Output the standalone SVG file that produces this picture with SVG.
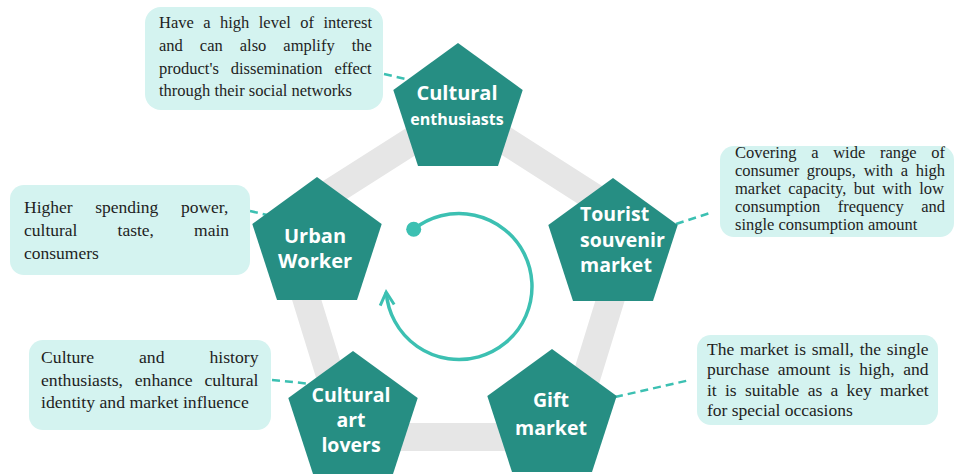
<svg xmlns="http://www.w3.org/2000/svg" width="955" height="476" viewBox="0 0 955 476">
<style>
.pent{fill:#268e83}
.lbl{font-family:"Open Sans","Noto Sans",sans-serif;font-weight:bold;fill:#ffffff}
.box{fill:#d4f3f0}
.bt{font-family:"Liberation Serif","Times New Roman",serif;fill:#1e1e1e}
.dash{stroke:#3cc0b2;stroke-width:2.5;stroke-dasharray:8 5;fill:none}
</style>
<defs>
<polygon id="pg" points="0,-68 64.7,-21 40,55 -40,55 -64.7,-21"/>
<marker id="ah" markerUnits="userSpaceOnUse" markerWidth="20" markerHeight="20" viewBox="-14 -10 16 20" refX="0" refY="0" orient="auto">
<path d="M-13,-7 L0,0 L-13,7" fill="none" stroke="#3cc0b2" stroke-width="3"/>
</marker>
</defs>
<g id="ring">
<polygon points="459,111 634,223 568,437 349,437 283,223" fill="none" stroke="#e6e6e6" stroke-width="28" stroke-linejoin="miter"/>
</g>
<g id="connectors">
<line class="dash" x1="384" y1="74" x2="414" y2="81"/>
<line class="dash" x1="676" y1="224" x2="710" y2="213"/>
<line class="dash" x1="250" y1="211" x2="280" y2="218"/>
<line class="dash" x1="272" y1="380" x2="322" y2="385"/>
<line class="dash" x1="615" y1="397" x2="690" y2="380"/>
</g>
<g id="cycle">
<circle cx="413.7" cy="229.3" r="7.5" fill="#3cc0b2"/>
<path d="M413.7,229.3 A73,73 0 1 1 386.2,292.1" fill="none" stroke="#3cc0b2" stroke-width="3.5" marker-end="url(#ah)"/>
</g>
<g id="node-cultural-enthusiasts">
<use href="#pg" class="pent" transform="translate(458,111)"/>
<text class="lbl" x="457" y="100" font-size="20" text-anchor="middle">Cultural</text>
<text class="lbl" x="457" y="125" font-size="16" text-anchor="middle">enthusiasts</text>
</g>
<g id="node-tourist">
<use href="#pg" class="pent" transform="translate(613,246)"/>
<text class="lbl" x="580" y="221" font-size="19.5">Tourist</text>
<text class="lbl" x="580" y="247" font-size="19.5">souvenir</text>
<text class="lbl" x="580" y="272" font-size="19.5">market</text>
</g>
<g id="node-urban">
<use href="#pg" class="pent" transform="translate(317,245)"/>
<text class="lbl" x="315" y="243" font-size="20" text-anchor="middle">Urban</text>
<text class="lbl" x="315" y="268" font-size="20" text-anchor="middle">Worker</text>
</g>
<g id="node-art-lovers">
<use href="#pg" class="pent" transform="translate(353,419)"/>
<text class="lbl" x="351" y="402" font-size="19.5" text-anchor="middle">Cultural</text>
<text class="lbl" x="351" y="427" font-size="19.5" text-anchor="middle">art</text>
<text class="lbl" x="351" y="452" font-size="19.5" text-anchor="middle">lovers</text>
</g>
<g id="node-gift">
<use href="#pg" class="pent" transform="translate(552,417)"/>
<text class="lbl" x="551" y="407" font-size="19.5" text-anchor="middle">Gift</text>
<text class="lbl" x="551" y="435" font-size="19.5" text-anchor="middle">market</text>
</g>
<g id="note-enthusiasts">
<rect class="box" x="145" y="7" width="238" height="103" rx="16"/>
<g class="bt" font-size="16.5">
<text x="159" y="28" word-spacing="5.3">Have a high level of interest</text>
<text x="159" y="50.8" word-spacing="12.9">and can also amplify the</text>
<text x="159" y="73.6" word-spacing="7.85">product's dissemination effect</text>
<text x="159" y="96.4">through their social networks</text>
</g>
</g>
<g id="note-tourist">
<rect class="box" x="720" y="146" width="234" height="91" rx="14"/>
<g class="bt" font-size="16.5">
<text x="735" y="158" word-spacing="10.6">Covering a wide range of</text>
<text x="735" y="176" word-spacing="3.6">consumer groups, with a high</text>
<text x="735" y="194" word-spacing="3.35">market capacity, but with low</text>
<text x="735" y="212" word-spacing="13.35">consumption frequency and</text>
<text x="735" y="230">single consumption amount</text>
</g>
</g>
<g id="note-urban">
<rect class="box" x="10" y="185" width="240" height="90" rx="14"/>
<g class="bt" font-size="17.5">
<text x="24" y="213" word-spacing="18.2">Higher spending power,</text>
<text x="24" y="236" word-spacing="35.7">cultural taste, main</text>
<text x="24" y="259">consumers</text>
</g>
</g>
<g id="note-art-lovers">
<rect class="box" x="29" y="340" width="242" height="90" rx="14"/>
<g class="bt" font-size="17.7">
<text x="41" y="363" word-spacing="40.5">Culture and history</text>
<text x="41" y="386" word-spacing="7.3">enthusiasts, enhance cultural</text>
<text x="41" y="408">identity and market influence</text>
</g>
</g>
<g id="note-gift">
<rect class="box" x="697" y="335" width="241" height="90" rx="14"/>
<g class="bt" font-size="17.5">
<text x="707" y="355" word-spacing="1.36">The market is small, the single</text>
<text x="707" y="375.3" word-spacing="4.25">purchase amount is high, and</text>
<text x="707" y="395.6" word-spacing="3.9">it is suitable as a key market</text>
<text x="707" y="416">for special occasions</text>
</g>
</g>
</svg>
